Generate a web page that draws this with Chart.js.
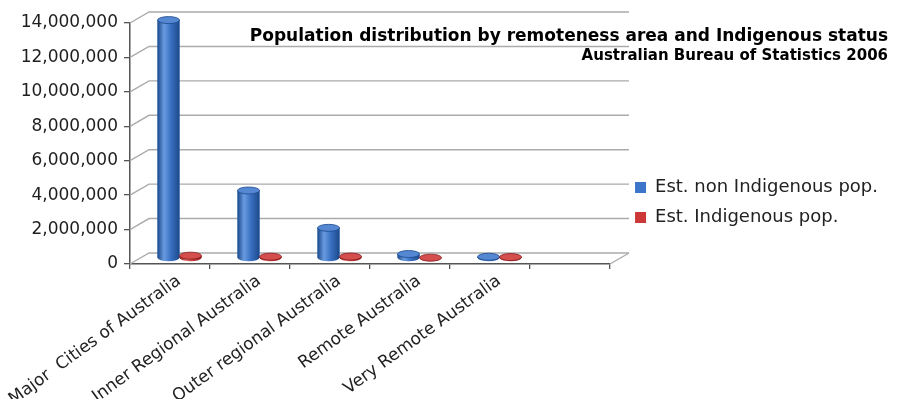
<!DOCTYPE html>
<html>
<head>
<meta charset="utf-8">
<script src="https://cdn.jsdelivr.net/npm/chart.js@4.4.1/dist/chart.umd.min.js"></script>
<style>
  html, body { margin: 0; padding: 0; background: #ffffff; }
  #wrap { width: 897px; height: 399px; position: relative; }
</style>
</head>
<body>
<div id="wrap"><canvas id="c"></canvas></div>
<script>
// ---- data ----
const categories = ['Major  Cities of Australia', 'Inner Regional Australia', 'Outer regional Australia', 'Remote Australia', 'Very Remote Australia', ''];
const nonIndigenous = [13850000, 3950000, 1780000, 260000, 100000, null];
const indigenous = [165000, 107000, 113000, 48000, 83000, null];
const yTicks = [0, 2000000, 4000000, 6000000, 8000000, 10000000, 12000000, 14000000];
const seriesNames = ['Est. non Indigenous pop.', 'Est. Indigenous pop.'];
const titleText = 'Population distribution by remoteness area and Indigenous status';
const subtitleText = 'Australian Bureau of Statistics 2006';

// ---- styling ----
const FONT = 'DejaVu Sans';
const DX = 19, DY = 11; // depth of the pseudo-3D walls
const palettes = [
  { dark: '#1b4a8c', mid: '#3a70c2', light: '#6a9be0', top: '#5587d2', legend: '#3c75c9' },
  { dark: '#881a1a', mid: '#c43a38', light: '#e27070', top: '#d44e4e', legend: '#cc3838' }
];

const depthPlugin = {
  id: 'depth',
  beforeDatasetsDraw(chart) {
    const { ctx, chartArea: a, scales: { y } } = chart;
    ctx.save();
    ctx.strokeStyle = '#ababab';
    ctx.lineWidth = 1.4;
    y.ticks.forEach(t => {
      const py = y.getPixelForValue(t.value);
      ctx.beginPath();
      ctx.moveTo(a.left, py);
      ctx.lineTo(a.left + DX, py - DY);
      ctx.lineTo(a.right + DX, py - DY);
      ctx.stroke();
    });
    const p0 = y.getPixelForValue(0);
    ctx.beginPath();
    ctx.moveTo(a.right, p0);
    ctx.lineTo(a.right + DX, p0 - DY);
    ctx.stroke();
    ctx.restore();
    ctx.save();
    ctx.translate(DX / 2, -DY / 2);
  },
  afterDatasetsDraw(chart) {
    const ctx = chart.ctx;
    chart.data.datasets.forEach((ds, i) => {
      const pal = palettes[i];
      const meta = chart.getDatasetMeta(i);
      meta.data.forEach((bar, j) => {
        if (ds.data[j] == null) return;
        const p = bar.getProps(['x', 'y', 'base', 'width'], true);
        if (p.y == null || isNaN(p.y)) return;
        const rx = p.width / 2, ry = 3.5;
        const l = p.x - rx, r = p.x + rx;
        const g = ctx.createLinearGradient(l, 0, r, 0);
        g.addColorStop(0, pal.dark);
        g.addColorStop(0.3, pal.light);
        g.addColorStop(0.6, pal.mid);
        g.addColorStop(1, pal.dark);
        ctx.save();
        ctx.fillStyle = g;
        ctx.beginPath();
        ctx.moveTo(l, p.y);
        ctx.lineTo(l, p.base);
        ctx.ellipse(p.x, p.base, rx, ry, 0, Math.PI, 0, true);
        ctx.lineTo(r, p.y);
        ctx.closePath();
        ctx.fill();
        ctx.beginPath();
        ctx.ellipse(p.x, p.y, rx, ry, 0, 0, Math.PI * 2);
        ctx.fillStyle = pal.top;
        ctx.fill();
        ctx.lineWidth = 0.8;
        ctx.strokeStyle = pal.dark;
        ctx.stroke();
        ctx.restore();
      });
    });
    ctx.restore();
  }
};

const chart = new Chart(document.getElementById('c'), {
  type: 'bar',
  data: {
    labels: categories,
    datasets: [
      { label: seriesNames[0], data: nonIndigenous, backgroundColor: palettes[0].legend, borderWidth: 0 },
      { label: seriesNames[1], data: indigenous, backgroundColor: palettes[1].legend, borderWidth: 0 }
    ]
  },
  options: {
    responsive: true,
    maintainAspectRatio: false,
    animation: false,
    layout: { padding: { left: 0, right: 9, top: 0, bottom: 0 } },
    datasets: { bar: { categoryPercentage: 0.55, barPercentage: 1.0, clip: false } },
    scales: {
      x: {
        grid: { offset: true, drawOnChartArea: false, drawTicks: true, tickLength: 5, color: '#555', lineWidth: 1.3 },
        border: { display: true, color: '#555', width: 1.5 },
        ticks: { autoSkip: false, minRotation: 36, maxRotation: 36, labelOffset: 9, padding: 2,
                 color: '#222', font: { family: FONT, size: 17 } },
        afterFit(s) { s.height = 135; s.paddingLeft = 0; s.paddingRight = 0; }
      },
      y: {
        position: 'left',
        min: 0, max: 14000000,
        afterBuildTicks(s) { s.ticks = yTicks.map(v => ({ value: v })); },
        grid: { drawOnChartArea: false, drawTicks: true, tickLength: 6, color: '#555', lineWidth: 1.3 },
        border: { display: true, color: '#555', width: 1.5 },
        ticks: { padding: 6, color: '#1e1e1e', font: { family: FONT, size: 17 },
                 callback: v => Number(v).toLocaleString('en-US') },
        afterFit(s) { s.width = 130; }
      },
      gap: {
        type: 'linear', axis: 'y', position: 'right', display: true,
        grid: { display: false }, border: { display: false }, ticks: { display: false },
        afterFit(s) { s.width = 13; }
      }
    },
    plugins: {
      legend: {
        position: 'right',
        align: 'center',
        maxWidth: 340,
        title: { display: true, text: ' ', font: { size: 5, lineHeight: 1.2 }, padding: 0 },
        labels: { boxWidth: 11, boxHeight: 11, padding: 12, color: '#222',
                  font: { family: FONT, size: 18, lineHeight: 1.2 } }
      },
      title: {
        display: true, text: titleText, align: 'end', color: '#000',
        font: { family: FONT, size: 17, weight: 'bold', lineHeight: 1.2 },
        padding: { top: 26.8, bottom: -24.2 }
      },
      subtitle: {
        display: true, text: subtitleText, align: 'end', color: '#000',
        font: { family: FONT, size: 15, weight: 'bold', lineHeight: 1.2 },
        padding: { top: 24, bottom: -42 }
      },
      tooltip: { enabled: false }
    }
  },
  plugins: [depthPlugin]
});
</script>
</body>
</html>
